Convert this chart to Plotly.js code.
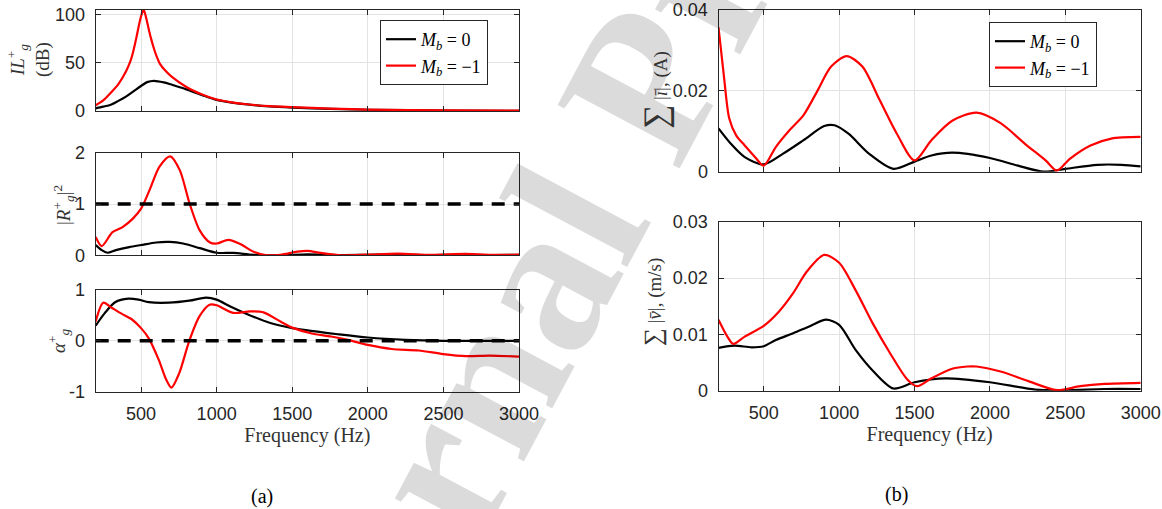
<!DOCTYPE html>
<html>
<head>
<meta charset="utf-8">
<script src="https://cdn.plot.ly/plotly-3.0.1.min.js"></script>
<style>
  html, body { margin: 0; padding: 0; background: #ffffff; }
  #chart { width: 1162px; height: 509px; }
</style>
</head>
<body>
<div id="chart"></div>
<script>
// ---------- data ----------
const xTickVals = [500, 1000, 1500, 2000, 2500, 3000];
const xTickText = ['500', '1000', '1500', '2000', '2500', '3000'];

// (a) top: insertion loss IL_g^+ (dB)
const ilFreqM0 = [200, 250, 300, 350, 400, 450, 500, 540, 585, 650, 700, 800, 900, 1000, 1100, 1200, 1350, 1500, 1750, 2000, 2500, 3000];
const ilM0 = [2.8, 4.5, 6.5, 10.5, 15, 20.5, 26, 30, 31.4, 29.8, 27.5, 22.5, 16.8, 11.5, 8.8, 6.8, 4.8, 3.6, 2.2, 1.3, 0.5, 0.2];
const ilFreqM1 = [200, 250, 300, 350, 400, 430, 450, 470, 490, 505, 518, 532, 548, 565, 581, 600, 625, 660, 700, 800, 900, 1000, 1100, 1200, 1350, 1500, 1750, 2000, 2500, 3000];
const ilM1 = [6, 11, 19, 28, 41, 52, 63, 77, 92, 101, 105, 98, 87, 76, 67, 58, 49, 42, 36, 25, 17.5, 12, 9, 7, 5, 4, 2.5, 1.5, 0.6, 0.3];
const ilTickVals = [0, 50, 100];
const ilTickText = ['0', '50', '100'];

// (a) middle: |R_g^+|^2
const rFreqM0 = [200, 240, 278, 333, 422, 500, 600, 689, 778, 889, 1000, 1111, 1244, 1422, 1600, 1800, 2000, 2200, 2400, 2600, 2800, 3000];
const rM0 = [0.2, 0.1, 0.05, 0.1, 0.16, 0.2, 0.25, 0.26, 0.23, 0.14, 0.05, 0.046, 0.01, 0, 0.02, 0.005, 0.01, 0.015, 0.005, 0.015, 0.005, 0.01];
const rFreqM1 = [200, 240, 311, 378, 444, 500, 556, 622, 693, 756, 822, 889, 956, 1000, 1078, 1156, 1244, 1333, 1422, 1533, 1600, 1689, 1822, 2000, 2200, 2422, 2644, 2867, 3000];
const rM1 = [0.36, 0.18, 0.45, 0.55, 0.71, 0.91, 1.27, 1.73, 1.93, 1.66, 1.0, 0.48, 0.25, 0.23, 0.30, 0.22, 0.07, 0.0, 0.01, 0.07, 0.085, 0.046, 0.0, 0.013, 0.033, 0.007, 0.026, 0.007, 0.013];
const rTickVals = [0, 1, 2];
const rTickText = ['0', '1', '2'];

// (a) bottom: alpha_g^+
const aFreqM0 = [200, 261, 328, 417, 484, 551, 685, 819, 931, 1000, 1087, 1199, 1355, 1500, 1667, 1801, 2000, 2248, 2500, 3000];
const aM0 = [0.30, 0.55, 0.76, 0.83, 0.81, 0.76, 0.75, 0.79, 0.85, 0.81, 0.68, 0.53, 0.35, 0.25, 0.18, 0.13, 0.066, 0.02, 0, 0];
const aFreqM1 = [200, 250, 306, 373, 440, 500, 551, 618, 663, 701, 752, 819, 886, 953, 1000, 1109, 1221, 1310, 1422, 1500, 1623, 1757, 1868, 2000, 2158, 2337, 2498, 2650, 2806, 3000];
const aM1 = [0.38, 0.75, 0.65, 0.53, 0.42, 0.25, 0.05, -0.38, -0.74, -0.92, -0.64, 0, 0.48, 0.71, 0.70, 0.55, 0.58, 0.56, 0.38, 0.26, 0.15, 0.086, 0.02, -0.08, -0.16, -0.19, -0.26, -0.30, -0.29, -0.31];
const aTickVals = [-1, 0, 1];
const aTickText = ['-1', '0', '1'];

// reference lines
const refFreq = [200, 3000];
const unityLine = [1, 1];
const zeroLine = [0, 0];

// (b) top: sum |i| (A)
const iFreqM0 = [200, 282, 374, 500, 626, 764, 901, 970, 1062, 1200, 1360, 1500, 1612, 1750, 2000, 2186, 2358, 2500, 2713, 2874, 3000];
const iM0 = [0.0107, 0.0069, 0.0036, 0.0018, 0.0044, 0.0078, 0.0113, 0.0115, 0.0094, 0.0044, 0.0007, 0.0025, 0.004, 0.0047, 0.0034, 0.0015, 0, 0.0007, 0.0017, 0.0017, 0.0013];
const iFreqM1 = [200, 236, 271, 317, 374, 443, 500, 580, 672, 764, 856, 947, 1050, 1154, 1268, 1383, 1500, 1612, 1750, 1911, 2071, 2232, 2369, 2443, 2530, 2667, 2805, 3000];
const iM1 = [0.0357, 0.0236, 0.0132, 0.009, 0.0065, 0.0036, 0.0015, 0.0061, 0.0103, 0.014, 0.02, 0.026, 0.0286, 0.026, 0.0178, 0.0094, 0.0028, 0.0078, 0.0126, 0.0146, 0.012, 0.0069, 0.0028, 0.0003, 0.0032, 0.0065, 0.0082, 0.0086];
const iTickVals = [0, 0.02, 0.04];
const iTickText = ['0', '0.02', '0.04'];

// (b) bottom: sum |v| (m/s)
const vFreqM0 = [200, 305, 420, 500, 580, 695, 810, 913, 1000, 1108, 1222, 1360, 1500, 1704, 2000, 2300, 2500, 2760, 3000];
const vM0 = [0.0076, 0.008, 0.0077, 0.0079, 0.009, 0.0102, 0.0115, 0.0126, 0.0117, 0.0073, 0.0036, 0.0004, 0.0015, 0.0022, 0.0015, 0.0002, 0.0001, 0.0003, 0.0003];
const vFreqM1 = [200, 259, 298, 374, 500, 603, 695, 787, 901, 1000, 1108, 1222, 1337, 1452, 1516, 1612, 1750, 1850, 1911, 2071, 2255, 2444, 2599, 2760, 3000];
const vM1 = [0.0126, 0.0096, 0.0083, 0.0096, 0.0115, 0.0141, 0.0173, 0.0212, 0.0241, 0.0227, 0.0179, 0.012, 0.0067, 0.002, 0.0008, 0.0022, 0.0039, 0.0043, 0.0043, 0.0034, 0.0017, 0.0001, 0.0008, 0.0012, 0.0014];
const vTickVals = [0, 0.01, 0.02, 0.03];
const vTickText = ['0', '0.01', '0.02', '0.03'];

const seriesNames = ['<i>M</i><sub><i>b</i></sub> = 0', '<i>M</i><sub><i>b</i></sub> = \u22121'];

// ---------- styling ----------
const BLACK = '#000000';
const RED = '#ff0000';
const AXC = '#262626';
const SERIF = 'Liberation Serif';
const SANS = 'Liberation Sans';

function curve(x, y, color, xa, ya, name, legend, show) {
  return {
    type: 'scatter', mode: 'lines', x: x, y: y, xaxis: xa, yaxis: ya,
    name: name, legend: legend, showlegend: show,
    line: { color: color, width: 2.2, shape: 'spline', smoothing: 0.8 },
    hoverinfo: 'skip'
  };
}
function dashed(x, y, xa, ya) {
  return {
    type: 'scatter', mode: 'lines', x: x, y: y, xaxis: xa, yaxis: ya,
    showlegend: false, hoverinfo: 'skip',
    line: { color: BLACK, width: 3.5, dash: '13px,9px' }
  };
}

const data = [
  curve(ilFreqM0, ilM0, BLACK, 'x', 'y', seriesNames[0], 'legend', true),
  curve(ilFreqM1, ilM1, RED, 'x', 'y', seriesNames[1], 'legend', true),
  curve(rFreqM0, rM0, BLACK, 'x2', 'y2', '', 'legend', false),
  curve(rFreqM1, rM1, RED, 'x2', 'y2', '', 'legend', false),
  dashed(refFreq, unityLine, 'x2', 'y2'),
  curve(aFreqM0, aM0, BLACK, 'x3', 'y3', '', 'legend', false),
  curve(aFreqM1, aM1, RED, 'x3', 'y3', '', 'legend', false),
  dashed(refFreq, zeroLine, 'x3', 'y3'),
  curve(iFreqM0, iM0, BLACK, 'x4', 'y4', seriesNames[0], 'legend2', true),
  curve(iFreqM1, iM1, RED, 'x4', 'y4', seriesNames[1], 'legend2', true),
  curve(vFreqM0, vM0, BLACK, 'x5', 'y5', '', 'legend2', false),
  curve(vFreqM1, vM1, RED, 'x5', 'y5', '', 'legend2', false)
];

const W = 1162, H = 509;
function px(x) { return x / W; }
function py(y) { return 1 - y / H; }

function xAxis(domain, anchor, showLabels, withTitle) {
  const ax = {
    domain: domain, anchor: anchor, range: [200, 3000],
    tickmode: 'array', tickvals: xTickVals, ticktext: xTickText,
    showticklabels: showLabels, ticklabelstandoff: 6,
    showline: true, linecolor: AXC, linewidth: 1, mirror: 'ticks',
    ticks: 'inside', ticklen: 5, tickcolor: AXC,
    showgrid: true, gridcolor: '#e3e3e3', gridwidth: 1, zeroline: false,
    tickfont: { family: SANS, size: 18, color: AXC }
  };
  if (withTitle) {
    ax.title = { text: 'Frequency (Hz)', font: { family: SERIF, size: 20, color: '#333333' }, standoff: 4 };
  }
  return ax;
}
function yAxis(domain, anchor, range, tv, tt) {
  return {
    domain: domain, anchor: anchor, range: range,
    tickmode: 'array', tickvals: tv, ticktext: tt, ticklabelstandoff: 6,
    showline: true, linecolor: AXC, linewidth: 1, mirror: 'ticks',
    ticks: 'inside', ticklen: 5, tickcolor: AXC,
    showgrid: true, gridcolor: '#e3e3e3', gridwidth: 1, zeroline: false,
    tickfont: { family: SANS, size: 18, color: AXC }
  };
}

const LX = [px(95.7), px(519)];
const RX = [px(718.5), px(1140.7)];

const legendStyle = {
  xanchor: 'right', yanchor: 'top',
  bgcolor: '#ffffff', bordercolor: AXC, borderwidth: 1,
  font: { family: SERIF, size: 18, color: '#000000' },
  itemwidth: 30, tracegroupgap: 0
};

const layout = {
  width: W, height: H,
  margin: { l: 0, r: 0, t: 0, b: 0 },
  paper_bgcolor: '#ffffff', plot_bgcolor: 'rgba(0,0,0,0)',
  showlegend: true,
  xaxis: xAxis(LX, 'y', false, false),
  yaxis: yAxis([py(111), py(10)], 'x', [0, 105], ilTickVals, ilTickText),
  xaxis2: xAxis(LX, 'y2', false, false),
  yaxis2: yAxis([py(255.3), py(152.7)], 'x2', [0, 2], rTickVals, rTickText),
  xaxis3: xAxis(LX, 'y3', true, true),
  yaxis3: yAxis([py(391.7), py(290)], 'x3', [-1, 1], aTickVals, aTickText),
  xaxis4: xAxis(RX, 'y4', false, false),
  yaxis4: yAxis([py(171.7), py(10)], 'x4', [0, 0.04], iTickVals, iTickText),
  xaxis5: xAxis(RX, 'y5', true, true),
  yaxis5: yAxis([py(390.7), py(221.7)], 'x5', [0, 0.03], vTickVals, vTickText),
  legend: Object.assign({ x: px(488), y: py(20) }, legendStyle),
  legend2: Object.assign({ x: px(1097), y: py(22) }, legendStyle),
  annotations: [
    // watermark
    { text: '<b>Journal Pre-proof</b>', xref: 'paper', yref: 'paper', x: px(642), y: py(88),
      xanchor: 'center', yanchor: 'middle', showarrow: false, textangle: -62,
      font: { family: SERIF, size: 210, color: 'rgba(0,0,0,0.14)' } },
    // y-axis titles
    { text: '<i>IL</i><sup>+</sup><sub><i>g</i></sub><br>(dB)', xref: 'paper', yref: 'paper',
      x: px(29), y: py(60), xanchor: 'center', yanchor: 'middle', showarrow: false, textangle: -90,
      font: { family: SERIF, size: 19, color: '#333333' } },
    { text: '|<i>R</i><sup>+</sup><sub><i>g</i></sub>|<sup>2</sup>', xref: 'paper', yref: 'paper',
      x: px(64), y: py(205), xanchor: 'center', yanchor: 'middle', showarrow: false, textangle: -90,
      font: { family: SERIF, size: 19, color: '#333333' } },
    { text: '<i>\u03B1</i><sup>+</sup><sub><i>g</i></sub>', xref: 'paper', yref: 'paper',
      x: px(58), y: py(341), xanchor: 'center', yanchor: 'middle', showarrow: false, textangle: -90,
      font: { family: SERIF, size: 19, color: '#333333' } },
    { text: '<span style="font-size:34px">\u2211</span> |<i>\u012B</i>|, (A)', xref: 'paper', yref: 'paper',
      x: px(656), y: py(90), xanchor: 'center', yanchor: 'middle', showarrow: false, textangle: -90,
      font: { family: SERIF, size: 19, color: '#333333' } },
    { text: '<span style="font-size:25px">\u2211</span> |<i>v\u0304</i>|, (m/s)', xref: 'paper', yref: 'paper',
      x: px(653), y: py(302), xanchor: 'center', yanchor: 'middle', showarrow: false, textangle: -90,
      font: { family: SERIF, size: 19, color: '#333333' } },
    // panel captions
    { text: '(a)', xref: 'paper', yref: 'paper', x: px(262), y: py(496),
      xanchor: 'center', yanchor: 'middle', showarrow: false,
      font: { family: SERIF, size: 20, color: '#000000' } },
    { text: '(b)', xref: 'paper', yref: 'paper', x: px(896), y: py(494),
      xanchor: 'center', yanchor: 'middle', showarrow: false,
      font: { family: SERIF, size: 20, color: '#000000' } }
  ]
};

Plotly.newPlot('chart', data, layout, { staticPlot: true, displayModeBar: false });
</script>
</body>
</html>
